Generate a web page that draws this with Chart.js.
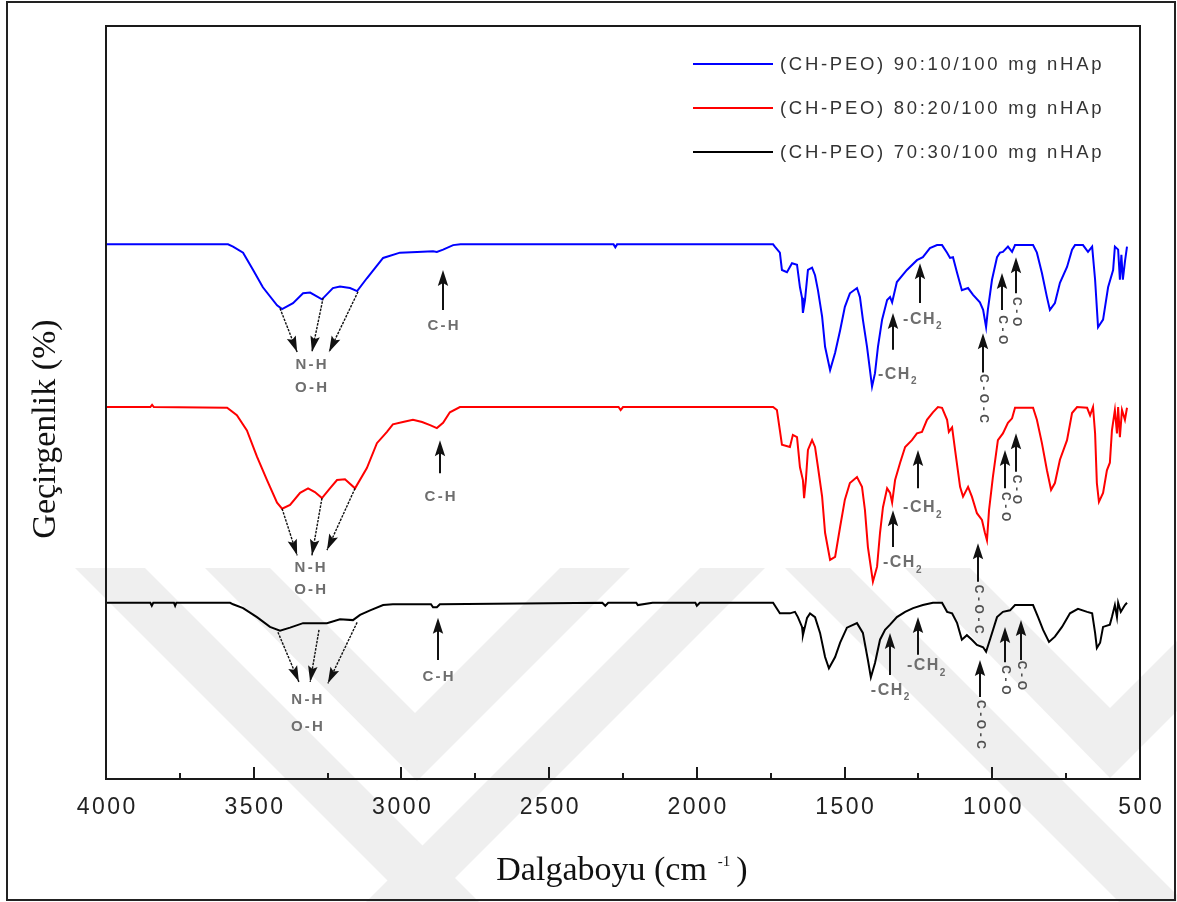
<!DOCTYPE html>
<html>
<head>
<meta charset="utf-8">
<script src="https://cdn.jsdelivr.net/npm/chart.js@4.4.0/dist/chart.umd.min.js"></script>
<style>
  html, body { margin: 0; padding: 0; background: #fff; }
  #wrap { width: 1177px; height: 902px; }
</style>
</head>
<body>
<div id="wrap"><canvas id="ftir" width="1177" height="902"></canvas></div>
<script>
// FTIR spectra of CH-PEO / nHAp films: wavenumber (cm-1) and offset transmittance
const blueWn = [4000,3587,3570,3536,3502,3469,3421,3404,3367,3333,3309,3269,3232,3208,3174,3150,3117,3062,3005,2947,2893,2880,2859,2825,2800,2282,2276,2270,1742,1736,1719,1712,1695,1678,1661,1651,1644,1641,1634,1624,1610,1600,1590,1576,1566,1549,1532,1515,1499,1482,1458,1448,1438,1424,1407,1397,1387,1373,1356,1346,1339,1323,1289,1255,1235,1211,1187,1170,1153,1143,1133,1119,1103,1082,1065,1042,1031,1021,1015,1001,984,974,964,947,933,923,862,849,832,815,805,788,771,747,730,720,693,676,662,652,642,625,608,591,585,574,568,563,558,551,544];
const blueT = [71.0,71.0,70.7,69.9,67.6,65.3,62.9,62.4,63.2,64.5,64.6,63.7,65.2,65.4,65.2,64.8,66.5,69.2,69.9,70.0,70.1,70.0,70.3,70.9,71.0,71.0,70.6,71.0,71.0,70.7,69.9,67.6,67.3,68.5,68.3,65.3,63.9,61.9,63.6,67.6,67.9,66.9,64.9,61.4,57.4,54.3,56.6,59.6,62.7,64.5,65.2,64.0,61.0,57.4,52.1,53.9,57.4,61.0,63.6,64.0,63.3,66.0,67.6,68.9,69.3,70.5,70.9,70.9,69.9,69.2,69.3,67.2,64.9,65.2,64.3,63.3,62.3,60.0,62.3,66.3,69.3,69.9,70.0,70.7,70.0,70.9,70.9,69.9,67.2,64.0,62.3,63.2,65.9,68.0,70.3,70.9,70.9,70.0,70.7,66.3,60.0,61.0,65.3,67.6,70.7,70.3,66.3,69.6,66.3,68.7,70.7];

const redWn = [4000,3850,3844,3838,3590,3557,3523,3489,3455,3421,3404,3377,3343,3316,3293,3269,3242,3218,3191,3157,3117,3083,3049,3029,2995,2961,2930,2903,2880,2859,2836,2802,2265,2258,2250,1742,1729,1719,1712,1685,1675,1661,1651,1641,1637,1631,1624,1610,1600,1590,1576,1566,1549,1532,1515,1499,1482,1458,1441,1431,1421,1404,1390,1380,1370,1356,1346,1339,1329,1312,1295,1272,1255,1238,1221,1201,1184,1170,1153,1147,1136,1126,1109,1099,1082,1069,1052,1035,1025,1018,1011,998,981,964,947,933,923,862,849,832,815,801,788,771,747,730,713,679,669,659,652,646,639,625,612,602,595,585,578,574,568,561,551,544];
const redT = [49.4,49.4,49.7,49.4,49.3,48.3,46.3,42.8,39.7,36.7,35.9,36.4,38.0,38.6,38.1,37.3,38.6,39.7,39.8,38.6,41.3,44.6,46.1,47.1,47.4,47.7,47.4,47.0,46.6,47.3,48.7,49.4,49.4,49.0,49.4,49.4,49.0,46.3,44.4,44.1,45.7,45.4,41.4,39.7,37.3,39.7,43.7,45.0,44.1,41.4,37.5,32.7,29.1,29.5,33.5,37.1,39.3,40.1,38.8,35.7,30.8,26.2,28.2,32.7,36.1,38.6,38.0,36.7,39.7,42.0,44.1,45.0,45.9,46.1,47.7,48.7,49.4,49.3,47.7,46.1,46.7,43.7,38.8,37.5,38.8,37.5,35.3,34.4,32.7,31.7,35.7,40.1,45.0,45.9,47.3,47.9,49.3,49.3,47.7,44.6,41.0,38.4,39.3,42.4,45.0,48.6,49.4,49.3,48.3,49.4,45.9,39.3,36.8,38.0,41.0,42.0,46.3,49.0,45.9,49.4,45.4,49.0,47.7,49.3];

const blackWn = [4000,3850,3845,3840,3770,3766,3762,3580,3570,3536,3489,3445,3411,3377,3333,3299,3252,3208,3164,3140,3106,3062,3029,2900,2893,2880,2870,2320,2310,2300,2205,2200,2150,2005,2000,1990,1742,1719,1685,1668,1658,1644,1641,1627,1617,1600,1583,1566,1553,1532,1515,1492,1458,1438,1421,1411,1397,1380,1363,1346,1323,1295,1268,1235,1201,1170,1153,1136,1119,1103,1086,1069,1052,1031,1021,1008,984,964,940,923,862,845,828,808,788,764,737,710,679,662,652,646,635,625,602,595,585,578,574,565,551,544];
const blackT = [23.4,23.4,23.0,23.4,23.4,23.0,23.4,23.4,23.2,22.7,21.5,20.2,19.7,20.1,20.7,20.7,20.7,21.2,21.1,21.8,22.4,23.1,23.2,23.2,22.8,22.8,23.2,23.4,23.0,23.4,23.4,23.1,23.4,23.4,23.0,23.4,23.4,22.0,22.0,22.2,21.5,20.2,19.1,21.4,22.0,21.5,19.4,16.2,14.7,16.2,18.1,20.1,20.7,19.4,15.8,13.5,15.4,18.5,19.8,20.5,21.5,22.2,22.7,23.1,23.4,23.4,22.2,22.0,20.7,18.5,19.1,18.5,17.8,17.5,16.9,18.5,21.5,22.2,22.4,23.1,23.1,21.5,19.8,18.2,18.9,20.2,22.0,22.6,22.2,22.0,19.4,17.4,18.1,20.2,20.5,21.5,23.1,21.5,23.4,22.2,23.1,23.4];

const seriesLabels = ['(CH-PEO) 90:10/100 mg nHAp', '(CH-PEO) 80:20/100 mg nHAp', '(CH-PEO) 70:30/100 mg nHAp'];

// x axis ticks (cm-1)
const xMajorTicks = [4000, 3500, 3000, 2500, 2000, 1500, 1000, 500];
const xMinorTicks = [3750, 3250, 2750, 2250, 1750, 1250, 750];

// band assignments: dashed arrows [fromWn, fromT, toWn, toT]
const nhArrows = [
  [3411, 62.5, 3353, 56.7], [3265, 63.9, 3303, 56.7], [3147, 64.7, 3245, 56.7],
  [3404, 35.9, 3353, 29.7], [3269, 37.3, 3303, 29.7], [3157, 38.6, 3252, 30.4],
  [3418, 19.5, 3347, 12.9], [3279, 19.8, 3309, 12.9], [3150, 20.8, 3249, 12.7]
];
// upward arrows [wn, tailT, tipT]
const upArrows = [
  [2859, 62.3, 67.6], [1336, 57.0, 61.9], [1245, 63.2, 68.5], [1031, 54.0, 59.2], [967, 62.3, 67.2], [920, 64.5, 69.3],
  [2869, 40.6, 45.0], [1336, 30.8, 35.7], [1251, 38.6, 43.7], [1048, 26.2, 31.3], [957, 38.6, 43.7], [920, 40.8, 45.9],
  [2876, 15.8, 21.4], [1346, 13.8, 19.4], [1251, 16.5, 21.5], [1042, 10.9, 15.8], [957, 15.5, 20.2], [903, 15.8, 21.1]
];
// centred labels [text, wn, t]
const bondLabels = [
  ['N-H', 3306, 55.0], ['O-H', 3306, 51.9], ['C-H', 2859, 60.2],
  ['N-H', 3309, 28.0], ['O-H', 3309, 25.1], ['C-H', 2869, 37.5],
  ['N-H', 3320, 10.5], ['O-H', 3320, 6.9], ['C-H', 2876, 13.5]
];
// methylene labels, left edge [wn, t]
const ch2Labels = [
  [1387, 53.7], [1302, 61.0],
  [1370, 28.7], [1302, 36.0],
  [1411, 11.8], [1289, 15.0]
];
// ether groups written downwards [text, wn, topT]
const etherLabels = [
  ['C-O-C', 1031, 53.8], ['C-O', 967, 61.6], ['C-O', 920, 64.0],
  ['C-O-C', 1048, 25.8], ['C-O', 957, 38.1], ['C-O', 920, 40.4],
  ['C-O-C', 1042, 10.5], ['C-O', 957, 15.1], ['C-O', 903, 15.7]
];

const SANS = '"Liberation Sans", Arial, sans-serif';
const SERIF = '"Liberation Serif", "Times New Roman", serif';

const toPoints = (wn, t) => wn.map((w, i) => ({ x: w, y: t[i] }));

// faint background emblem bands
const emblem = [
  [[75, 568], [145, 568], [479, 902], [409, 902]],
  [[205, 568], [270, 568], [415, 713], [560, 568], [630, 568], [417, 781]],
  [[700, 568], [765, 568], [431, 902], [366, 902]],
  [[785, 568], [850, 568], [1184, 902], [1119, 902]],
  [[905, 568], [970, 568], [1110, 708], [1177, 641], [1177, 711], [1110, 778]]
];

function drawHead(ctx, x0, y0, x1, y1, len, hw) {
  const a = Math.atan2(y1 - y0, x1 - x0);
  ctx.save();
  ctx.translate(x1, y1);
  ctx.rotate(a);
  ctx.beginPath();
  ctx.moveTo(0, 0);
  ctx.lineTo(-len, -hw);
  ctx.lineTo(-len * 0.82, 0);
  ctx.lineTo(-len, hw);
  ctx.closePath();
  ctx.fill();
  ctx.restore();
}

const decor = {
  id: 'decor',
  beforeDraw(chart) {
    const ctx = chart.ctx;
    ctx.save();
    ctx.fillStyle = '#ffffff';
    ctx.fillRect(0, 0, chart.width, chart.height);
    ctx.fillStyle = '#efefef';
    emblem.forEach(poly => {
      ctx.beginPath();
      poly.forEach(([x, y], i) => (i ? ctx.lineTo(x, y) : ctx.moveTo(x, y)));
      ctx.closePath();
      ctx.fill();
    });
    ctx.restore();
  },
  afterDatasetsDraw(chart) {
    const ctx = chart.ctx;
    const xs = chart.scales.x, ys = chart.scales.y;
    const X = v => xs.getPixelForValue(v);
    const Y = v => ys.getPixelForValue(v);
    const a = chart.chartArea;
    ctx.save();

    // plot frame
    ctx.strokeStyle = '#1a1a1a';
    ctx.lineWidth = 2;
    ctx.strokeRect(a.left, a.top, a.right - a.left, a.bottom - a.top);

    // inward ticks on the bottom axis
    ctx.beginPath();
    xMajorTicks.forEach(v => { const x = Math.round(X(v)); ctx.moveTo(x, a.bottom); ctx.lineTo(x, a.bottom - 12); });
    xMinorTicks.forEach(v => { const x = Math.round(X(v)); ctx.moveTo(x, a.bottom); ctx.lineTo(x, a.bottom - 6); });
    ctx.stroke();

    // tick labels
    ctx.fillStyle = '#222';
    ctx.font = `23px ${SANS}`;
    ctx.letterSpacing = '2.5px';
    ctx.textAlign = 'center';
    ctx.textBaseline = 'middle';
    xMajorTicks.forEach(v => ctx.fillText(String(v), X(v) + 1.25, a.bottom + 29));
    ctx.letterSpacing = '0px';

    // x title with superscript
    ctx.fillStyle = '#111';
    ctx.textAlign = 'left';
    ctx.textBaseline = 'alphabetic';
    ctx.font = `34px ${SERIF}`;
    const t1 = 'Dalgaboyu (cm', t3 = ')';
    const w1 = ctx.measureText(t1).width, w3 = ctx.measureText(t3).width;
    ctx.font = `15px ${SERIF}`;
    const t2 = '-1';
    const w2 = ctx.measureText(t2).width;
    const total = w1 + 11 + w2 + 6 + w3;
    let tx = 622 - total / 2;
    ctx.font = `34px ${SERIF}`;
    ctx.fillText(t1, tx, 880);
    ctx.font = `15px ${SERIF}`;
    ctx.fillText(t2, tx + w1 + 11, 866);
    ctx.font = `34px ${SERIF}`;
    ctx.fillText(t3, tx + w1 + 11 + w2 + 6, 880);

    // y title
    ctx.save();
    ctx.translate(55, 429);
    ctx.rotate(-Math.PI / 2);
    ctx.textAlign = 'center';
    ctx.fillText('Geçirgenlik (%)', 0, 0);
    ctx.restore();

    // legend
    ctx.font = `18.5px ${SANS}`;
    ctx.letterSpacing = '2.7px';
    ctx.textBaseline = 'middle';
    chart.data.datasets.forEach((ds, i) => {
      const ly = 64 + i * 44;
      ctx.strokeStyle = ds.borderColor;
      ctx.lineWidth = 2;
      ctx.beginPath();
      ctx.moveTo(693, ly);
      ctx.lineTo(773, ly);
      ctx.stroke();
      ctx.fillStyle = '#333';
      ctx.fillText(ds.label, 780, ly + 1);
    });
    ctx.letterSpacing = '0px';

    // dashed arrows to the N-H / O-H bands
    ctx.strokeStyle = '#111';
    ctx.fillStyle = '#111';
    nhArrows.forEach(([w0, t0, w1, t1]) => {
      const x0 = X(w0), y0 = Y(t0), x1 = X(w1), y1 = Y(t1);
      ctx.lineWidth = 1.4;
      ctx.setLineDash([2.5, 1.2]);
      ctx.beginPath();
      ctx.moveTo(x0, y0);
      ctx.lineTo(x1, y1);
      ctx.stroke();
      ctx.setLineDash([]);
      drawHead(ctx, x0, y0, x1, y1, 16, 4.8);
    });

    // upward arrows
    upArrows.forEach(([w, tTail, tTip]) => {
      const x = Math.round(X(w)), y0 = Y(tTail), y1 = Y(tTip);
      ctx.lineWidth = 2;
      ctx.beginPath();
      ctx.moveTo(x, y0);
      ctx.lineTo(x, y1 + 8);
      ctx.stroke();
      drawHead(ctx, x, y0, x, y1, 16, 5.2);
    });

    // band labels
    ctx.fillStyle = '#6e6e6e';
    ctx.font = `bold 15px ${SANS}`;
    ctx.letterSpacing = '2.2px';
    ctx.textAlign = 'center';
    ctx.textBaseline = 'middle';
    bondLabels.forEach(([s, w, t]) => ctx.fillText(s, X(w) + 1.1, Y(t)));

    ctx.textAlign = 'left';
    ch2Labels.forEach(([w, t]) => {
      const x = X(w), y = Y(t);
      ctx.font = `bold 16px ${SANS}`;
      ctx.letterSpacing = '1.5px';
      ctx.fillText('-CH', x, y);
      const ww = ctx.measureText('-CH').width;
      ctx.font = `bold 10px ${SANS}`;
      ctx.letterSpacing = '0px';
      ctx.fillText('2', x + ww, y + 7);
    });

    ctx.fillStyle = '#505050';
    ctx.font = `bold 12px ${SANS}`;
    ctx.letterSpacing = '3.6px';
    etherLabels.forEach(([s, w, t]) => {
      ctx.save();
      ctx.translate(X(w), Y(t));
      ctx.rotate(Math.PI / 2);
      ctx.textAlign = 'left';
      ctx.textBaseline = 'middle';
      ctx.fillText(s, 0, 0);
      ctx.restore();
    });
    ctx.letterSpacing = '0px';

    // page border
    ctx.strokeStyle = '#222';
    ctx.lineWidth = 2;
    ctx.strokeRect(7, 2, 1168, 898);
    ctx.restore();
  }
};

new Chart(document.getElementById('ftir'), {
  type: 'line',
  data: {
    datasets: [
      { label: seriesLabels[0], data: toPoints(blueWn, blueT), borderColor: '#0000ff' },
      { label: seriesLabels[1], data: toPoints(redWn, redT), borderColor: '#ff0000' },
      { label: seriesLabels[2], data: toPoints(blackWn, blackT), borderColor: '#000000' }
    ]
  },
  options: {
    responsive: false,
    animation: false,
    devicePixelRatio: 1,
    events: [],
    layout: { padding: { left: 106, right: 37, top: 26, bottom: 123 } },
    elements: {
      line: { borderWidth: 2, tension: 0, fill: false },
      point: { radius: 0 }
    },
    plugins: { legend: { display: false }, tooltip: { enabled: false } },
    scales: {
      x: { type: 'linear', reverse: true, min: 500, max: 4000, display: false },
      y: { type: 'linear', min: 0, max: 100, display: false }
    }
  },
  plugins: [decor]
});
</script>
</body>
</html>
